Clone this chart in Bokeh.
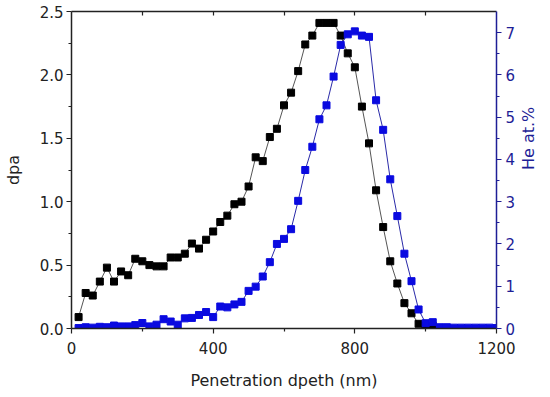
import math
from bokeh.plotting import figure
from bokeh.models import Range1d, LinearAxis, FixedTicker, PrintfTickFormatter, CustomJSTickFormatter
from bokeh.embed import file_html
from bokeh.resources import INLINE

depth_dpa = [20, 40, 60, 80, 100, 120, 140, 160, 180, 200, 220, 240, 260, 280, 300,
             320, 340, 360, 380, 400, 420, 440, 460, 480, 500, 520, 540, 560, 580, 600,
             620, 640, 660, 680, 700, 720, 740, 760, 780, 800, 820, 840, 860, 880, 900,
             920, 940, 960, 980, 1000, 1020]
dpa = [0.09, 0.28, 0.26, 0.37, 0.48, 0.37, 0.45, 0.42, 0.55, 0.53, 0.50, 0.49, 0.49, 0.56, 0.56,
       0.59, 0.67, 0.63, 0.70, 0.765, 0.84, 0.89, 0.98, 1.00, 1.12, 1.35, 1.32, 1.51, 1.575, 1.76,
       1.86, 2.03, 2.24, 2.31, 2.41, 2.41, 2.41, 2.31, 2.17, 2.06, 1.75, 1.46, 1.09, 0.80, 0.53,
       0.355, 0.20, 0.12, 0.037, 0.02, 0.02]

depth_he = [20, 40, 60, 80, 100, 120, 140, 160, 180, 200, 220, 240, 260, 280, 300,
            320, 340, 360, 380, 400, 420, 440, 460, 480, 500, 520, 540, 560, 580, 600,
            620, 640, 660, 680, 700, 720, 740, 760, 780, 800, 820, 840, 860, 880, 900,
            920, 940, 960, 980, 1000, 1020, 1040, 1060, 1080, 1100, 1120, 1140, 1160, 1180, 1200]
he = [0.01, 0.03, 0.02, 0.04, 0.03, 0.07, 0.05, 0.05, 0.08, 0.13, 0.05, 0.09, 0.22, 0.165, 0.09,
      0.24, 0.25, 0.32, 0.39, 0.27, 0.52, 0.50, 0.57, 0.63, 0.89, 0.99, 1.23, 1.57, 2.0, 2.12,
      2.35, 3.02, 3.75, 4.30, 4.95, 5.28, 5.96, 6.71, 6.96, 7.03, 6.93, 6.90, 5.40, 4.70, 3.53,
      2.66, 1.77, 1.12, 0.45, 0.125, 0.15, 0.03, 0.03, 0.02, 0.02, 0.02, 0.02, 0.02, 0.02, 0.01]

x_major = [0, 400, 800, 1200]
x_minor = [200, 600, 1000]
dpa_major = [0.0, 0.5, 1.0, 1.5, 2.0, 2.5]
dpa_minor = [0.25, 0.75, 1.25, 1.75, 2.25]
he_major = [0, 1, 2, 3, 4, 5, 6, 7]
he_minor = [0.5, 1.5, 2.5, 3.5, 4.5, 5.5, 6.5]

FONT = "DejaVu Sans"
DARK = "#222222"
BLUE_AX = "#1e1e96"

p = figure(width=550, height=397, output_backend="svg", toolbar_location=None,
           x_range=Range1d(0, 1200), y_range=Range1d(0, 2.5),
           min_border_left=70, min_border_right=47, min_border_top=11, min_border_bottom=69)
p.extra_y_ranges = {"he": Range1d(0, 7.5)}
p.xgrid.visible = False
p.ygrid.visible = False
p.outline_line_color = None
p.background_fill_color = "white"

def style(ax, color):
    ax.axis_line_color = color
    ax.major_tick_line_color = color
    ax.minor_tick_line_color = color
    ax.major_label_text_color = color
    ax.axis_label_text_color = color
    ax.major_label_text_font = FONT
    ax.axis_label_text_font = FONT
    ax.major_label_text_font_size = "15px"
    ax.axis_label_text_font_size = "16px"
    ax.axis_label_text_font_style = "normal"
    ax.major_tick_in = 0
    ax.major_tick_out = 5
    ax.minor_tick_in = 0
    ax.minor_tick_out = 3
    ax.axis_line_width = 1.5
    ax.major_tick_line_width = 1.2
    ax.minor_tick_line_width = 1.2

xa = p.xaxis[0]
style(xa, DARK)
xa.ticker = FixedTicker(ticks=x_major, minor_ticks=x_minor)
xa.axis_label = "Penetration dpeth (nm)"
xa.major_label_standoff = 8
xa.axis_label_standoff = 14

ya = p.yaxis[0]
style(ya, DARK)
ya.ticker = FixedTicker(ticks=dpa_major, minor_ticks=dpa_minor)
ya.formatter = PrintfTickFormatter(format="%.1f")
ya.axis_label = "dpa"
ya.major_label_standoff = 3
ya.axis_label_standoff = 14

ra = LinearAxis(y_range_name="he", axis_label="He at.%")
style(ra, BLUE_AX)
ra.ticker = FixedTicker(ticks=he_major, minor_ticks=he_minor)
ra.major_label_standoff = 4
ra.axis_label_standoff = 10
ra.axis_label_orientation = math.pi / 2
p.add_layout(ra, "right")

ta = LinearAxis(axis_label=None)
style(ta, DARK)
ta.ticker = FixedTicker(ticks=[200, 400, 600, 800, 1000], minor_ticks=[])
ta.formatter = CustomJSTickFormatter(code="return ''")
ta.major_tick_in = 4
ta.major_tick_out = 0
ta.major_label_standoff = 0
p.add_layout(ta, "above")

p.line(depth_dpa, dpa, line_color="#555555", line_width=1)
p.scatter(depth_dpa, dpa, marker="square", size=7, fill_color="black", line_color="black")

p.line(depth_he, he, line_color="#2a2aa8", line_width=1, y_range_name="he")
p.scatter(depth_he, he, marker="square", size=7, fill_color="#0a0ae0", line_color="#0a0ae0",
          y_range_name="he")

open("out.html", "w").write(file_html(p, INLINE))
